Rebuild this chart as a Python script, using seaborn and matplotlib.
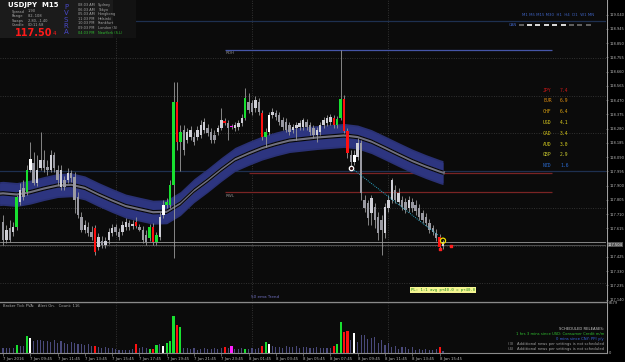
import numpy as np
import pandas as pd
import matplotlib
matplotlib.use("Agg")
import matplotlib.pyplot as plt
import seaborn as sns
from matplotlib.patches import Rectangle

# ---------------- data ----------------
opens = [
117.655, 117.534, 117.615, 117.588, 117.621, 117.789, 117.882, 117.855, 118.003, 118.050,
117.916, 118.016, 118.070, 118.023, 118.003, 118.103, 118.003, 117.889, 117.936, 117.936,
117.983, 117.956, 117.822, 117.688, 117.601, 117.621, 117.588, 117.615, 117.487, 117.528,
117.501, 117.534, 117.581, 117.621, 117.588, 117.588, 117.621, 117.648, 117.628, 117.655,
117.621, 117.601, 117.568, 117.548, 117.621, 117.521, 117.554, 117.702, 117.769, 117.769,
117.902, 118.458, 118.190, 118.270, 118.203, 118.223, 118.223, 118.223, 118.237, 118.270,
118.284, 118.257, 118.237, 118.257, 118.284, 118.331, 118.317, 118.297, 118.284, 118.290,
118.317, 118.351, 118.458, 118.451, 118.417, 118.458, 118.384, 118.223, 118.257, 118.371,
118.384, 118.371, 118.337, 118.324, 118.304, 118.270, 118.284, 118.290, 118.290, 118.324,
118.304, 118.284, 118.237, 118.257, 118.304, 118.317, 118.324, 118.351, 118.304, 118.351,
118.478, 118.264, 118.103, 118.056, 118.090, 118.183, 117.802, 117.782, 117.715, 117.755,
117.688, 117.668, 117.581, 117.748, 117.802, 117.869, 117.789, 117.802, 117.789, 117.748,
117.789, 117.769, 117.748, 117.715, 117.688, 117.648, 117.615, 117.581, 117.554, 117.494,
]
highs = [
117.702, 117.635, 117.668, 117.655, 117.835, 117.916, 117.936, 118.036, 118.190, 118.123,
118.103, 118.257, 118.137, 118.070, 118.137, 118.123, 118.036, 118.036, 117.963, 118.016,
118.003, 117.989, 117.855, 117.722, 117.668, 117.655, 117.628, 117.635, 117.581, 117.561,
117.554, 117.615, 117.641, 117.641, 117.615, 117.661, 117.682, 117.668, 117.668, 117.688,
117.641, 117.628, 117.601, 117.641, 117.648, 117.588, 117.722, 117.802, 117.815, 117.936,
118.591, 118.591, 118.304, 118.304, 118.284, 118.297, 118.257, 118.297, 118.337, 118.351,
118.310, 118.284, 118.270, 118.304, 118.417, 118.351, 118.337, 118.310, 118.324, 118.337,
118.377, 118.551, 118.518, 118.471, 118.498, 118.484, 118.404, 118.284, 118.391, 118.417,
118.404, 118.391, 118.357, 118.351, 118.324, 118.310, 118.324, 118.337, 118.351, 118.344,
118.324, 118.304, 118.290, 118.324, 118.357, 118.371, 118.377, 118.371, 118.364, 118.806,
118.504, 118.284, 118.137, 118.137, 118.217, 118.203, 117.835, 117.802, 117.835, 117.782,
117.722, 117.702, 117.782, 117.835, 117.949, 117.902, 117.882, 117.829, 117.815, 117.829,
117.815, 117.802, 117.775, 117.735, 117.715, 117.675, 117.635, 117.608, 117.575, 117.534,
]
lows = [
117.501, 117.514, 117.521, 117.561, 117.601, 117.769, 117.802, 117.835, 117.989, 117.902,
117.896, 118.003, 117.989, 117.969, 117.989, 117.989, 117.902, 117.869, 117.869, 117.916,
117.922, 117.715, 117.682, 117.588, 117.581, 117.561, 117.534, 117.434, 117.468, 117.481,
117.481, 117.508, 117.561, 117.568, 117.534, 117.568, 117.601, 117.601, 117.608, 117.615,
117.594, 117.514, 117.501, 117.528, 117.501, 117.501, 117.534, 117.682, 117.748, 117.748,
117.414, 118.137, 118.000, 118.103, 118.183, 118.203, 118.170, 118.203, 118.217, 118.250,
118.230, 118.183, 118.183, 118.237, 118.270, 118.304, 118.203, 118.277, 118.264, 118.270,
118.297, 118.337, 118.384, 118.371, 118.391, 118.371, 118.203, 118.157, 118.237, 118.351,
118.337, 118.304, 118.270, 118.257, 118.237, 118.250, 118.203, 118.270, 118.270, 118.270,
118.237, 118.217, 118.190, 118.237, 118.284, 118.297, 118.304, 118.284, 118.284, 118.337,
118.250, 118.083, 118.016, 118.036, 118.070, 117.802, 117.722, 117.635, 117.635, 117.615,
117.534, 117.434, 117.548, 117.722, 117.782, 117.782, 117.769, 117.735, 117.715, 117.722,
117.722, 117.702, 117.668, 117.648, 117.628, 117.581, 117.568, 117.528, 117.468, 117.474,
]
closes = [
117.534, 117.601, 117.534, 117.621, 117.822, 117.869, 117.822, 118.003, 118.076, 117.916,
118.003, 118.070, 118.016, 118.003, 118.103, 118.016, 117.936, 118.003, 117.889, 117.983,
117.949, 117.802, 117.702, 117.601, 117.635, 117.581, 117.554, 117.454, 117.554, 117.501,
117.528, 117.588, 117.615, 117.588, 117.554, 117.635, 117.655, 117.621, 117.641, 117.628,
117.601, 117.534, 117.521, 117.621, 117.521, 117.568, 117.688, 117.769, 117.789, 117.902,
118.458, 118.190, 118.257, 118.137, 118.257, 118.270, 118.190, 118.270, 118.304, 118.324,
118.250, 118.203, 118.203, 118.284, 118.337, 118.317, 118.284, 118.290, 118.304, 118.317,
118.351, 118.484, 118.404, 118.391, 118.471, 118.391, 118.223, 118.257, 118.371, 118.391,
118.357, 118.324, 118.290, 118.270, 118.257, 118.290, 118.304, 118.317, 118.337, 118.290,
118.257, 118.237, 118.270, 118.304, 118.337, 118.351, 118.357, 118.304, 118.344, 118.478,
118.264, 118.116, 118.056, 118.103, 118.183, 117.849, 117.748, 117.682, 117.815, 117.668,
117.581, 117.601, 117.755, 117.802, 117.936, 117.802, 117.849, 117.755, 117.735, 117.802,
117.748, 117.728, 117.688, 117.668, 117.648, 117.601, 117.588, 117.548, 117.487, 117.521,
]
# PVSRA candle class: n normal, g climax bull, r climax bear, w rising bull, m rising bear
pvsra_bars = [4, 7, 8, 27, 39, 43, 44, 45, 47, 48, 49, 50, 51, 52, 65, 67, 71, 76, 77, 78,
              97, 98, 99, 100, 101, 103, 128]
pvsra_kind = ["g", "g", "w", "r", "r", "g", "r", "g", "w", "g", "g", "g", "r", "g", "r", "m", "g", "r", "g", "w",
              "r", "g", "g", "r", "r", "w", "r"]
volumes = [
900, 850, 950, 800, 1360, 1300, 1250, 2950, 2530, 2100,
2200, 2300, 2000, 2100, 1900, 2200, 1800, 2000, 1700, 1600,
1900, 1700, 1500, 1600, 1400, 1500, 1300, 1180, 1100, 900,
1000, 800, 900, 700, 600, 500, 600, 500, 700, 1540,
800, 1000, 900, 650, 650, 1360, 1500, 1240, 1720, 2120,
6370, 4780, 4550, 900, 800, 700, 850, 600, 700, 800,
650, 700, 900, 750, 800, 1010, 800, 1190, 700, 650,
800, 650, 750, 900, 700, 800, 1190, 1840, 1540, 1200,
1000, 1100, 900, 1300, 1000, 1100, 1200, 900, 1000, 1100,
800, 900, 1000, 850, 900, 800, 950, 1190, 1540, 5310,
3610, 3840, 2250, 3430, 1950, 3130, 3130, 2420, 2600, 2830,
1720, 2250, 1360, 1660, 960, 1190, 780, 1060, 960, 780,
1060, 600, 780, 480, 780, 600, 600, 780, 1010, 300,
]
vol_max = 8679
ema_bars = [-1, 0, 4, 8, 12, 16, 20, 24, 28, 32, 36, 40, 44, 48, 52, 56, 60, 64, 68, 72,
            76, 80, 84, 88, 92, 96, 100, 104, 108, 112, 116, 120, 124, 128, 129]
ema_vals = [117.846, 117.848, 117.840, 117.856, 117.880, 117.900, 117.905, 117.884, 117.840, 117.800,
            117.763, 117.742, 117.722, 117.725, 117.780, 117.866, 117.934, 118.007, 118.074, 118.114,
            118.150, 118.177, 118.200, 118.210, 118.220, 118.227, 118.234, 118.223, 118.193, 118.150,
            118.106, 118.063, 118.026, 117.993, 117.986]
band_half = 0.080
price_ticks = [119.040, 118.945, 118.850, 118.755, 118.660, 118.565, 118.470, 118.375, 118.280,
               118.185, 118.090, 117.995, 117.900, 117.805, 117.710, 117.615, 117.425,
               117.330, 117.235, 117.140]
current_price = 117.504
date_bars = [0, 8, 16, 24, 32, 40, 48, 56, 64, 72, 80, 88, 96, 104, 112, 120, 128]
date_labels = ["7 Jan 2016", "7 Jan 09:45", "7 Jan 11:45", "7 Jan 13:45", "7 Jan 15:45", "7 Jan 17:45",
               "7 Jan 19:45", "7 Jan 21:45", "7 Jan 23:45", "8 Jan 01:45", "8 Jan 03:45", "8 Jan 05:45",
               "8 Jan 07:45", "8 Jan 09:45", "8 Jan 11:45", "8 Jan 13:45", "8 Jan 15:45"]
grid_prices = [117.25, 117.50, 117.75, 118.00, 118.25, 118.50, 118.75, 119.00]
grid_bars = [33, 73, 113]
rdh_level, rdh_from, rdh_to = 118.806, 65, 161
rwl_level, rwl_from, rwl_to = 117.857, 65, 161
rwh_level, rwh_from = 117.981, 72
round_levels = [118.00, 119.00]
bidask_levels = [117.521, 117.501]
trend_bars = [102, 127.5]
trend_vals = [118.020, 117.570]
currencies = ["JPY", "EUR", "CHF", "USD", "CAD", "AUD", "GBP", "NZD"]
strength = [7.4, 6.9, 6.4, 4.1, 3.4, 3.0, 2.9, 1.6]
cur_colors = ["#d01818", "#d88a10", "#d8a010", "#e0d020", "#d8c818", "#d8d020", "#c8c830", "#2a6ad0"]

# ---------------- figure ----------------
BG = "#0b0b0b"
W, H = 625, 362
def rect(x0, y0, x1, y1):
    return [x0 / W, 1 - y1 / H, (x1 - x0) / W, (y1 - y0) / H]

fig = plt.figure(figsize=(6.25, 3.62), dpi=100)
fig.patch.set_facecolor("#000000")
ax = fig.add_axes(rect(0, 0, 606, 301))
axv = fig.add_axes(rect(0, 303, 606, 353))
for a in (ax, axv):
    a.set_facecolor(BG)
    a.set_xlim(-0.88, 176.8)
    for s in a.spines.values():
        s.set_visible(False)
ax.set_ylim(117.130, 119.137)
axv.set_ylim(0, vol_max)

n = len(opens)
idx = np.arange(n)
o = np.array(opens); h = np.array(highs); l = np.array(lows); c = np.array(closes)
kinds = ["n"] * n
for b, k in zip(pvsra_bars, pvsra_kind):
    kinds[b] = k
kind_col = {"g": "#18e030", "r": "#ff1010", "w": "#ffffff", "m": "#ff20ff"}

# grid
dot = (0, (1.2, 2.2))
for gp in grid_prices:
    ax.axhline(gp, color="#4a4a4a", lw=0.5, ls=dot, zorder=1)
for gb in grid_bars:
    ax.axvline(gb, color="#4a4a4a", lw=0.5, ls=dot, zorder=1)
    axv.axvline(gb, color="#4a4a4a", lw=0.5, ls=dot, zorder=1)

for lv in round_levels:
    ax.axhline(lv, color="#1e3050", lw=0.9, zorder=1.5)
ax.axhline(bidask_levels[0], color="#9a9a9a", lw=0.6, zorder=1.5)
ax.axhline(bidask_levels[1], color="#5a5a5a", lw=0.6, zorder=1.5)

ax.hlines(rdh_level, rdh_from, rdh_to, color="#4656a8", lw=0.9, zorder=1.6)
ax.hlines(rwl_level, rwl_from, rwl_to, color="#7a2424", lw=0.9, zorder=1.6)
ax.hlines(rwh_level, rwh_from, rwl_to, color="#7a2424", lw=0.9, zorder=1.6)
ax.text(rdh_from + 0.4, rdh_level - 0.012, "RDH", color="#8a8a8a", fontsize=3.0, va="top", ha="left")
ax.text(rwl_from + 0.4, rwl_level - 0.012, "RWL", color="#8a8a8a", fontsize=3.0, va="top", ha="left")

# 50 ema band
eb = np.array(ema_bars); ev = np.array(ema_vals)
ax.fill_between(eb, ev - band_half, ev + band_half, color="#2a3174", lw=0, zorder=2)
ax.fill_between(eb, ev - band_half * 0.85, ev + band_half * 0.85, color="#2d3580", lw=0, zorder=2.05)
ema_df = pd.DataFrame({"bar": eb, "ema": ev})
sns.lineplot(data=ema_df, x="bar", y="ema", ax=ax, color="#70707e", lw=2.6, estimator=None, sort=False, zorder=2.2)
ema_df_hi = pd.DataFrame({"bar": eb, "ema": ev + 0.011})
ema_df_lo = pd.DataFrame({"bar": eb, "ema": ev - 0.011})
sns.lineplot(data=ema_df_hi, x="bar", y="ema", ax=ax, color="#050508", lw=0.8, estimator=None, sort=False, zorder=2.3)
sns.lineplot(data=ema_df_lo, x="bar", y="ema", ax=ax, color="#050508", lw=0.8, estimator=None, sort=False, zorder=2.3)

# candles
bull = c >= o
fcs = []
for i in range(n):
    if kinds[i] == "n":
        fcs.append("#cfcfd6" if bull[i] else "#9a9aa2")
    else:
        fcs.append(kind_col[kinds[i]])
ax.vlines(idx, l, h, colors="#9a9a9a", lw=0.6, zorder=3)
body_h = np.maximum(np.abs(c - o), 0.004)
ax.bar(idx, body_h, bottom=np.minimum(o, c), width=0.72, color=fcs, lw=0, zorder=3.1)

# trend line and markers
tr_df = pd.DataFrame({"bar": trend_bars, "p": trend_vals})
sns.lineplot(data=tr_df, x="bar", y="p", ax=ax, color="#2aa8c8", lw=0.7, ls=(0, (1, 1.2)), estimator=None, zorder=3.3)
ax.scatter([102], [118.019], s=10, facecolor="#301010", edgecolor="white", lw=0.9, zorder=4)
ax.scatter([129], [117.532], s=14, facecolor="none", edgecolor="#f0e000", lw=0.9, zorder=4)
ax.scatter([128, 131.5], [117.477, 117.500], s=2, color="#ff2020", marker="s", zorder=4)

ax.set_xlabel(""); ax.set_ylabel("")
ax.set_xticks([])
ax.yaxis.tick_right()
ax.set_yticks(price_ticks)
ax.set_yticklabels([f"{p:.3f}" for p in price_ticks], fontsize=2.6, color="#b8b8b8")
ax.tick_params(axis="y", length=1.5, width=0.4, color="#a0a0a0", pad=0.8)
ax.text(1.002, current_price, f"{current_price:.3f}", transform=ax.get_yaxis_transform(),
        fontsize=2.6, color="#f0f0f0", va="center", ha="left",
        bbox=dict(boxstyle="square,pad=0.12", fc="#505050", ec="none"))

# volume
vcol = []
vw = []
for i in range(n):
    if kinds[i] == "n":
        vcol.append("#4a4a7c"); vw.append(0.32)
    else:
        vcol.append(kind_col[kinds[i]]); vw.append(0.62)
axv.bar(idx, volumes, width=vw, color=vcol, lw=0, zorder=3)
axv.yaxis.tick_right()
axv.set_yticks([0, vol_max])
axv.set_yticklabels(["0", str(vol_max)], fontsize=2.6, color="#b8b8b8")
axv.tick_params(axis="y", length=0, pad=2)
axv.set_xticks(date_bars)
axv.set_xticklabels(date_labels, fontsize=2.8, color="#b8b8b8", ha="left")
axv.tick_params(axis="x", length=2, width=0.4, color="#a0a0a0", pad=1, direction="out")
axv.set_xlabel(""); axv.set_ylabel("")

# overlay for frame and texts
ov = fig.add_axes([0, 0, 1, 1], zorder=10)
ov.set_xlim(0, W); ov.set_ylim(H, 0); ov.axis("off")
ov.plot([606.5, 606.5], [0, 353], color="#a0a0a0", lw=0.8)
ov.plot([0, 606.5], [301.8, 301.8], color="#8a8a8a", lw=1.0)
ov.plot([0, 606.5], [353, 353], color="#8a8a8a", lw=0.8)

# header info panel
ov.add_patch(Rectangle((0, 0), 113, 38, fc="#1b1b1b", ec="none"))
ov.add_patch(Rectangle((113, 0), 23, 38, fc="#121212", ec="none"))
ov.text(8, 5.5, "USDJPY  M15", color="white", fontsize=5.0, fontweight="bold", va="center")
for k, (lab, val) in enumerate([("Spread", "1.90"), ("Range", "82, 108"), ("Swaps", "2.80, -1.40"), ("Candle", "00:11:58")]):
    ov.text(12, 11.5 + 4.6 * k, lab, color="#a8a8a8", fontsize=2.6, va="center")
    ov.text(28, 11.5 + 4.6 * k, val, color="#a8a8a8", fontsize=2.6, va="center")
ov.text(15, 32.5, "117.50", color="#ff1a1a", fontsize=7.0, fontweight="bold", va="center")
ov.text(53, 33.5, "4", color="#ff1a1a", fontsize=4.0, va="center")
for k, ch in enumerate("PVSRA"):
    ov.text(66, 7.3 + 6.1 * k, ch, color="#4848c8", fontsize=5.0, va="center", ha="center")
sessions = [("08:03 AM", "Sydney"), ("06:03 AM", "Tokyo"), ("05:03 AM", "Hongkong"), ("11:03 PM", "Helsinki"),
            ("10:03 PM", "Frankfurt"), ("09:03 PM", "London (S)"), ("04:03 PM", "NewYork (S.L)")]
for k, (t, name) in enumerate(sessions):
    col = "#30c030" if k == 6 else "#a8a8a8"
    ov.text(78, 5 + 4.6 * k, t, color=col, fontsize=2.5, va="center")
    ov.text(98, 5 + 4.6 * k, name, color=col, fontsize=2.5, va="center")

# timeframe strip
ov.text(594, 15, "M1 M5 M15 M30  H1  H4  D1  W1 MN", color="#3e62c0", fontsize=2.8, va="center", ha="right")
ov.text(517, 25, "CAN", color="#3e62c0", fontsize=2.8, va="center", ha="right")
dash_cols = ["#707070"] + ["#ffffff"] * 5 + ["#707070"] * 3
for k, dc in enumerate(dash_cols):
    ov.plot([518.5 + 8.4 * k, 523.5 + 8.4 * k], [25, 25], color=dc, lw=1.2, solid_capstyle="butt")

# currency strength
for k, (cu, sv, cc) in enumerate(zip(currencies, strength, cur_colors)):
    ov.text(543, 90 + 10.8 * k, cu, color=cc, fontsize=3.4, family="DejaVu Sans Mono", va="center")
    ov.text(560, 90 + 10.8 * k, f"{sv:.1f}", color=cc, fontsize=3.4, family="DejaVu Sans Mono", va="center")

ov.text(251, 297, "50 ema Trend", color="#7070c0", fontsize=3.0, va="center")
ov.text(443, 289.7, "PL: 1:1 avg p+40.0 = p+40.0", color="#208a20", fontsize=2.9, va="center", ha="center",
        family="DejaVu Sans Mono", bbox=dict(boxstyle="square,pad=0.2", fc="#f4f490", ec="none"))

# volume panel texts
ov.text(3, 306, "Broker Tick PVA:   Alert On.   Count: 116", color="#a8a8a8", fontsize=2.7, va="center")
news = [("SCHEDULED RELEASES:", "#c8c8c8"), ("1 hrs 3 mins since USD: Consumer Credit m/m", "#30c030"),
        ("0 mins since CNY: PPI y/y", "#3a6ae0"),
        ("(3)   Additional news per settings is not scheduled", "#a0a0a0"),
        ("(4)   Additional news per settings is not scheduled", "#a0a0a0")]
for k, (txt, col) in enumerate(news):
    ov.text(604, 329 + 5 * k, txt, color=col, fontsize=2.7, va="center", ha="right")

fig.savefig("out.png", dpi=100, facecolor=fig.get_facecolor())
